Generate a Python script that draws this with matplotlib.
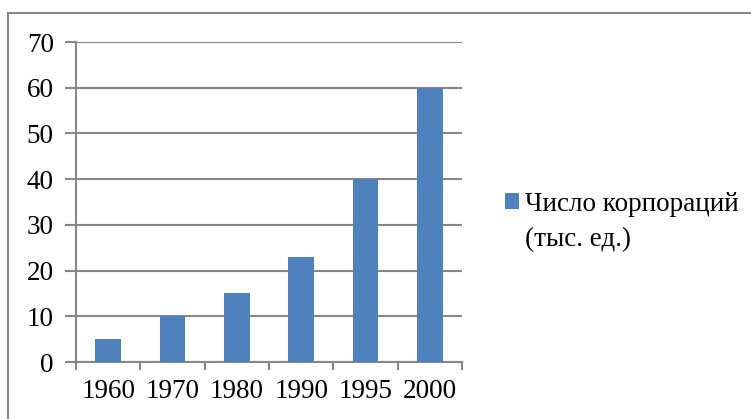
import numpy as np
import matplotlib.pyplot as plt
from matplotlib.patches import Rectangle

years = ['1960', '1970', '1980', '1990', '1995', '2000']
counts = [5, 10, 15, 23, 40, 60]
series_name = 'Число корпораций'
series_unit = '(тыс. ед.)'

plt.rcParams['font.family'] = ['Liberation Serif', 'DejaVu Serif']

grey = '#878787'
fs = 19.5
fig = plt.figure(figsize=(7.51, 4.19), dpi=100)

# chart border (right and bottom edges are cut off in the original)
fig.patches.append(Rectangle((8 / 751, -0.1), 1.1, (419 - 13) / 419 + 0.1,
                             transform=fig.transFigure, fill=False,
                             edgecolor=grey, linewidth=1.5))

ax = fig.add_axes([76 / 751, (419 - 362) / 419, (462 - 76) / 751, (362 - 42) / 419])
x = np.arange(len(years))
ax.bar(x, counts, width=0.4, color='#4F81BD', label=series_name, zorder=3)

ax.set_xlim(-0.5, len(years) - 0.5)
ax.set_ylim(0, 70)
ax.set_yticks(range(0, 71, 10))
ax.set_xticks(x)
ax.set_xticklabels(years)
ax.set_xticks(np.arange(-0.5, len(years)), minor=True)
ax.tick_params(axis='x', which='major', length=0, pad=12, labelsize=fs)
ax.tick_params(axis='x', which='minor', length=6, width=1.5, color=grey)
ax.tick_params(axis='y', length=8, width=1.5, color=grey, pad=8, labelsize=fs)
ax.grid(axis='y', color=grey, linewidth=1.5, zorder=0)
for s in ['top', 'right']:
    ax.spines[s].set_visible(False)
for s in ['left', 'bottom']:
    ax.spines[s].set_color(grey)
    ax.spines[s].set_linewidth(1.5)

fig.legend(loc='center left', bbox_to_anchor=(505 / 751, (419 - 204) / 419),
           frameon=False, fontsize=fs, handlelength=0.52, handleheight=0.5,
           handletextpad=0.22, borderpad=0, borderaxespad=0)
fig.text(525 / 751, (419 - 240) / 419, series_unit, fontsize=fs,
         ha='left', va='center')

fig.savefig('out.png', dpi=100)
